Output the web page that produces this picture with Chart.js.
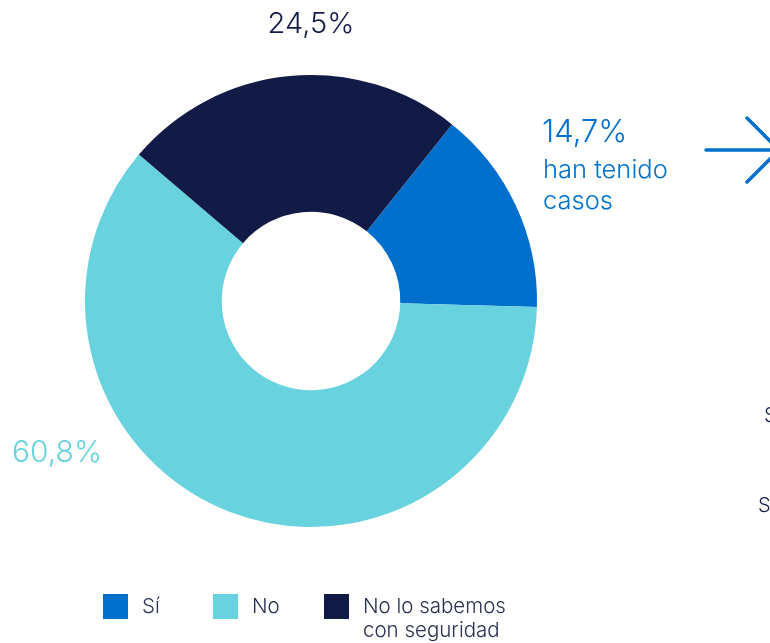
<!DOCTYPE html>
<html>
<head>
<meta charset="utf-8">
<script src="https://cdn.jsdelivr.net/npm/chart.js@4"></script>
<style>
  html, body { margin: 0; padding: 0; background: #fff; overflow: hidden; }
  #wrap { width: 770px; height: 643px; }
</style>
</head>
<body>
<div id="wrap"><canvas id="donut" width="770" height="643"></canvas></div>
<script>
const categories = ["Sí", "No", "No lo sabemos con seguridad"];
const values = [14.7, 60.8, 24.5];
const valueLabels = ["14,7%", "60,8%", "24,5%"];
const colors = ["#0070CC", "#68D2DF", "#121B45"];
const legendLines = [["Sí"], ["No"], ["No lo sabemos", "con seguridad"]];

const FONT = "Inter, 'Noto Sans', sans-serif";

const annotationPlugin = {
  id: "annotations",
  afterDraw(chart) {
    const ctx = chart.ctx;
    ctx.save();
    ctx.textBaseline = "middle";

    // value labels
    ctx.font = "300 29px " + FONT;
    ctx.fillStyle = colors[2];
    ctx.textAlign = "center";
    ctx.fillText(valueLabels[2], 311, 24);

    ctx.textAlign = "left";
    ctx.fillStyle = colors[0];
    ctx.font = "300 31px " + FONT;
    ctx.fillText(valueLabels[0], 542, 133);
    ctx.font = "300 25.5px " + FONT;
    ctx.fillText("han tenido", 543, 170);
    ctx.fillText("casos", 543, 201);

    ctx.font = "300 30px " + FONT;
    ctx.fillStyle = colors[1];
    ctx.fillText(valueLabels[1], 12, 453);

    // arrow
    ctx.strokeStyle = colors[0];
    ctx.lineWidth = 3.5;
    ctx.lineCap = "round";
    ctx.beginPath();
    ctx.moveTo(706, 150);
    ctx.lineTo(790, 150);
    ctx.moveTo(747, 118);
    ctx.lineTo(779, 150);
    ctx.lineTo(747, 182);
    ctx.stroke();

    // clipped text at the right edge
    ctx.fillStyle = colors[2];
    ctx.font = "300 20px " + FONT;
    ctx.fillText("Sí", 764, 416);
    ctx.fillText("Sí", 758, 506);

    // legend
    const xs = [103, 213, 324];
    ctx.font = "300 20.5px " + FONT;
    categories.forEach((c, i) => {
      ctx.fillStyle = colors[i];
      ctx.fillRect(xs[i], 594, 25, 25);
      ctx.fillStyle = "#2a3050";
      legendLines[i].forEach((line, j) => {
        ctx.fillText(line, xs[i] + 39, 607 + j * 24);
      });
    });
    ctx.restore();
  }
};

new Chart(document.getElementById("donut"), {
  type: "doughnut",
  data: {
    labels: categories,
    datasets: [{
      data: values,
      backgroundColor: colors,
      borderWidth: 0,
      hoverOffset: 0
    }]
  },
  options: {
    responsive: false,
    animation: false,
    rotation: 38.6,
    cutout: "39.5%",
    layout: { padding: { left: 85, right: 233, top: 75, bottom: 116 } },
    plugins: {
      legend: { display: false },
      tooltip: { enabled: false }
    }
  },
  plugins: [annotationPlugin]
});
</script>
</body>
</html>
